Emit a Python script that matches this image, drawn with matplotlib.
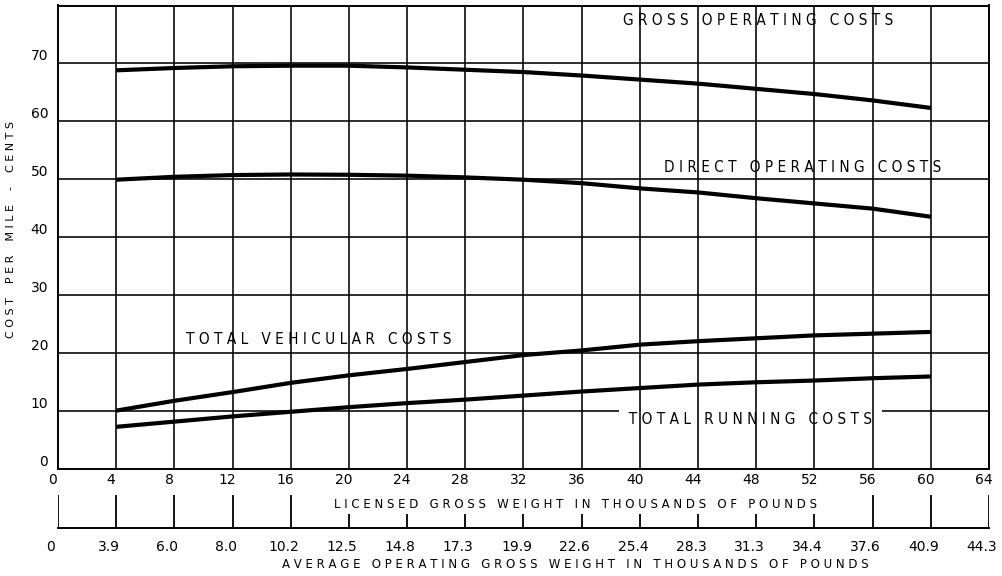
import matplotlib
matplotlib.use("Agg")
import matplotlib.pyplot as plt
from matplotlib.transforms import ScaledTranslation

# ---------------- data ----------------
licensed = [4, 8, 12, 16, 20, 24, 28, 32, 36, 40, 44, 48, 52, 56, 60]
gross_operating = [68.8, 69.2, 69.5, 69.6, 69.6, 69.3, 68.9, 68.5, 67.9, 67.2, 66.5, 65.6, 64.7, 63.6, 62.3]
direct_operating = [49.9, 50.4, 50.7, 50.8, 50.75, 50.6, 50.3, 49.9, 49.3, 48.4, 47.7, 46.7, 45.8, 44.9, 43.5]
total_vehicular = [10.0, 11.7, 13.2, 14.8, 16.1, 17.2, 18.4, 19.6, 20.4, 21.4, 22.0, 22.5, 23.0, 23.3, 23.6]
total_running = [7.2, 8.1, 9.0, 9.8, 10.6, 11.3, 11.9, 12.6, 13.3, 13.9, 14.5, 14.9, 15.2, 15.6, 15.9]

x_ticks = [0, 4, 8, 12, 16, 20, 24, 28, 32, 36, 40, 44, 48, 52, 56, 60, 64]
x_tick_labels = [str(v) for v in x_ticks]
avg_tick_labels = ["0", "3.9", "6.0", "8.0", "10.2", "12.5", "14.8", "17.3", "19.9",
                   "22.6", "25.4", "28.3", "31.3", "34.4", "37.6", "40.9", "44.3"]
y_ticks = [0, 10, 20, 30, 40, 50, 60, 70]
y_tick_labels = [str(v) for v in y_ticks]

series_labels = ["GROSS OPERATING COSTS", "DIRECT OPERATING COSTS",
                 "TOTAL VEHICULAR COSTS", "TOTAL RUNNING COSTS"]
label_pos = [(48.1, 77.4), (51.2, 52.0), (17.9, 22.3), (47.6, 8.5)]
label_boxed = [False, False, False, True]

x_title = "LICENSED GROSS WEIGHT IN THOUSANDS OF POUNDS"
x2_title = "AVERAGE OPERATING GROSS WEIGHT IN THOUSANDS OF POUNDS"
y_title = "COST PER MILE - CENTS"


def spaced(s, gap=3):
    return (" " * gap).join(" ".join(w) for w in s.split(" "))


W, H = 1003, 576
fig = plt.figure(figsize=(W / 100, H / 100), dpi=100)
fig.patch.set_facecolor("white")

left, right = 58, 989
top, bottom = 5.5, 468.5
ax = fig.add_axes([left / W, 1 - bottom / H, (right - left) / W, (bottom - top) / H])
ax.set_xlim(0, 64)
ax.set_ylim(0, 80)

grid_lw = 1.15
for v in x_ticks[1:-1]:
    ax.axvline(v, color="black", lw=grid_lw, zorder=3)
for h in y_ticks[1:]:
    ax.axhline(h, color="black", lw=grid_lw, zorder=1)
for s in ax.spines.values():
    s.set_linewidth(1.4)
    s.set_zorder(6)

ax.set_xticks(x_ticks)
ax.set_xticklabels(x_tick_labels)
ax.set_yticks(y_ticks)
ax.set_yticklabels(y_tick_labels)
ax.tick_params(axis="both", length=0, labelsize=10, colors="black")
ax.tick_params(axis="x", pad=3)
ax.tick_params(axis="y", pad=7)
shift = ScaledTranslation(-0.05, 0, fig.dpi_scale_trans)
for lab in ax.get_xticklabels():
    lab.set_transform(lab.get_transform() + shift)
for lab in ax.get_yticklabels():
    lab.set_va("bottom")

for ys in (gross_operating, direct_operating, total_vehicular, total_running):
    ax.plot(licensed, ys, color="black", lw=3.0, zorder=5,
            solid_capstyle="butt", solid_joinstyle="round")

for text, (tx, ty), boxed in zip(series_labels, label_pos, label_boxed):
    s = spaced(text)
    kw = {}
    if boxed:
        s = "  " + s + "  "
        kw["bbox"] = dict(facecolor="white", edgecolor="none", pad=1)
    ax.text(tx, ty, s, ha="center", va="center", fontsize=11,
            family=["DejaVu Sans"], fontstretch="condensed", color="black",
            zorder=2, **kw)

# secondary scale below
base_y = 528
ax2 = fig.add_axes([left / W, 1 - base_y / H, (right - left) / W, 33 / H])
ax2.set_xlim(0, 64)
ax2.set_ylim(0, 1)
ax2.patch.set_visible(False)
for k in ("top", "left", "right"):
    ax2.spines[k].set_visible(False)
ax2.spines["bottom"].set_linewidth(1.4)
tick_tops = [1.0 if (v <= 16 or v >= 56) else 0.42 for v in x_ticks]
ax2.vlines(x_ticks, 0, tick_tops, color="black", lw=1.3)
ax2.set_yticks([])
ax2.set_xticks(x_ticks)
ax2.set_xticklabels(avg_tick_labels)
ax2.tick_params(axis="x", length=0, labelsize=10, pad=8.5, colors="black")
shift2 = ScaledTranslation(-0.07, 0, fig.dpi_scale_trans)
for lab in ax2.get_xticklabels():
    lab.set_transform(lab.get_transform() + shift2)

fig.text(575 / W, 1 - 505 / H, spaced(x_title), ha="center", va="center", fontsize=8.5)
fig.text(575 / W, 1 - 565 / H, spaced(x2_title), ha="center", va="center", fontsize=8.5)
fig.text(11 / W, 1 - 230 / H, spaced(y_title, gap=4), ha="center", va="center",
         fontsize=8, rotation=90)

fig.savefig("out.png", dpi=100, facecolor="white")
